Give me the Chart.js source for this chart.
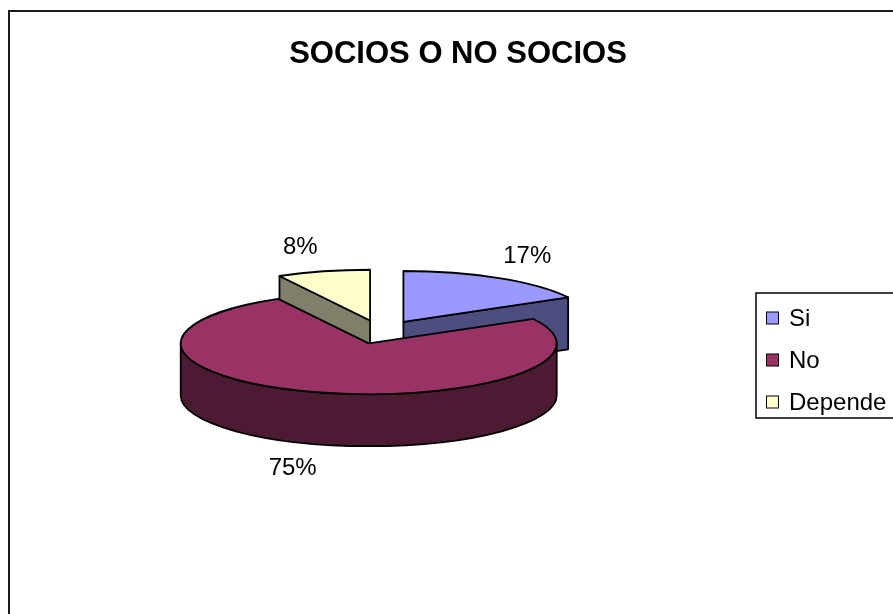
<!DOCTYPE html>
<html>
<head>
<meta charset="utf-8">
<script src="https://cdn.jsdelivr.net/npm/chart.js@4.4.1/dist/chart.umd.min.js"></script>
<style>
  html, body { margin: 0; padding: 0; background: #fff; }
</style>
</head>
<body>
<canvas id="pie" width="893" height="614"></canvas>
<script>
// chart data
const chartTitle = 'SOCIOS O NO SOCIOS';
const categories = ['Si', 'No', 'Depende'];
const shares = [17, 75, 8];
const pctLabels = ['17%', '75%', '8%'];
const topColors = ['#9999FF', '#993366', '#FFFFCC'];
const sideColors = ['#4D4D80', '#4D1A33', '#80806A'];

// 3d look
const TILT = 0.27;     // vertical squash of the disc
const DEPTH = 52;      // thickness in px
const EXPLODE = 44;    // slice pull-out
const FONT = '"Liberation Sans", Arial, sans-serif';

/**
 * Draws each slice as a tilted, extruded wedge.
 * Sides are drawn here, the top face is the library's own arc element.
 */
const pie3d = {
  id: 'pie3d',
  beforeDatasetDraw(chart, args) {
    const ctx = chart.ctx;
    const parts = args.meta.data.map((arc, i) => {
      const mid = (arc.startAngle + arc.endAngle) / 2;
      return {
        arc, i, mid,
        px: arc.x + Math.cos(mid) * EXPLODE,
        py: arc.y + Math.sin(mid) * EXPLODE * TILT,
        r: arc.outerRadius,
        ry: arc.outerRadius * TILT,
        a0: arc.startAngle,
        a1: arc.endAngle
      };
    });
    // back to front
    parts.sort((p, q) => p.py - q.py);

    ctx.save();
    ctx.lineWidth = 1.8;
    ctx.strokeStyle = '#000';
    ctx.lineJoin = 'round';
    parts.forEach(p => {
      const side = sideColors[p.i];
      const cut = a => {
        const ox = p.px + p.r * Math.cos(a);
        const oy = p.py + p.ry * Math.sin(a);
        ctx.beginPath();
        ctx.moveTo(p.px, p.py);
        ctx.lineTo(ox, oy);
        ctx.lineTo(ox, oy + DEPTH);
        ctx.lineTo(p.px, p.py + DEPTH);
        ctx.closePath();
        ctx.fillStyle = side;
        ctx.fill();
        ctx.stroke();
      };
      if (Math.cos(p.a0) < -1e-6) cut(p.a0);
      if (Math.cos(p.a1) > 1e-6) cut(p.a1);

      // outer rim, only the half facing the viewer
      for (let k = -1; k <= 1; k++) {
        const lo = Math.max(p.a0, 2 * Math.PI * k);
        const hi = Math.min(p.a1, 2 * Math.PI * k + Math.PI);
        if (hi <= lo) continue;
        ctx.beginPath();
        ctx.ellipse(p.px, p.py, p.r, p.ry, 0, lo, hi);
        ctx.ellipse(p.px, p.py + DEPTH, p.r, p.ry, 0, hi, lo, true);
        ctx.closePath();
        ctx.fillStyle = side;
        ctx.fill();
        ctx.stroke();
      }

      // top face
      ctx.save();
      ctx.translate(p.px, p.py);
      ctx.scale(1, TILT);
      ctx.translate(-p.arc.x, -p.arc.y);
      p.arc.draw(ctx);
      ctx.restore();

      ctx.beginPath();
      ctx.moveTo(p.px, p.py);
      ctx.ellipse(p.px, p.py, p.r, p.ry, 0, p.a0, p.a1);
      ctx.closePath();
      ctx.stroke();
    });
    ctx.restore();
    return false;
  },

  afterDraw(chart) {
    const ctx = chart.ctx;
    ctx.save();

    // outer frame
    ctx.strokeStyle = '#1a1a1a';
    ctx.lineWidth = 2;
    ctx.strokeRect(9, 11, 920, 700);

    // title
    ctx.fillStyle = '#000';
    ctx.font = 'bold 31px ' + FONT;
    ctx.textAlign = 'center';
    ctx.textBaseline = 'middle';
    ctx.fillText(chartTitle, 458, 54);

    // percent labels, placed outside each slice
    ctx.font = '24px ' + FONT;
    chart.getDatasetMeta(0).data.forEach((arc, i) => {
      const mid = (arc.startAngle + arc.endAngle) / 2;
      const cx = Math.cos(mid), sy = Math.sin(mid);
      const ax = arc.x + cx * EXPLODE;
      const ay = arc.y + sy * EXPLODE * TILT;
      const lx = ax + cx * 208 + Math.sign(cx) * 18;
      const ly = ay + sy * 76 + (sy > 0 ? DEPTH : 0);
      ctx.fillText(pctLabels[i], lx, ly);
    });

    // legend
    ctx.lineWidth = 1.5;
    ctx.strokeStyle = '#000';
    ctx.strokeRect(756, 293, 160, 125);
    ctx.textAlign = 'left';
    categories.forEach((name, i) => {
      const y = 318 + i * 42;
      ctx.fillStyle = topColors[i];
      ctx.fillRect(766.5, y - 6, 12, 12);
      ctx.lineWidth = 1;
      ctx.strokeRect(766.5, y - 6, 12, 12);
      ctx.fillStyle = '#000';
      ctx.fillText(name, 789, y + 1);
    });
    ctx.restore();
  }
};

new Chart(document.getElementById('pie'), {
  type: 'pie',
  data: {
    labels: categories,
    datasets: [{
      data: shares,
      backgroundColor: topColors,
      borderWidth: 0
    }]
  },
  options: {
    responsive: false,
    animation: false,
    events: [],
    layout: { padding: { left: 0, right: 131, top: 144, bottom: 94 } },
    plugins: {
      legend: { display: false },
      tooltip: { enabled: false },
      title: { display: false }
    }
  },
  plugins: [pie3d]
});
</script>
</body>
</html>
